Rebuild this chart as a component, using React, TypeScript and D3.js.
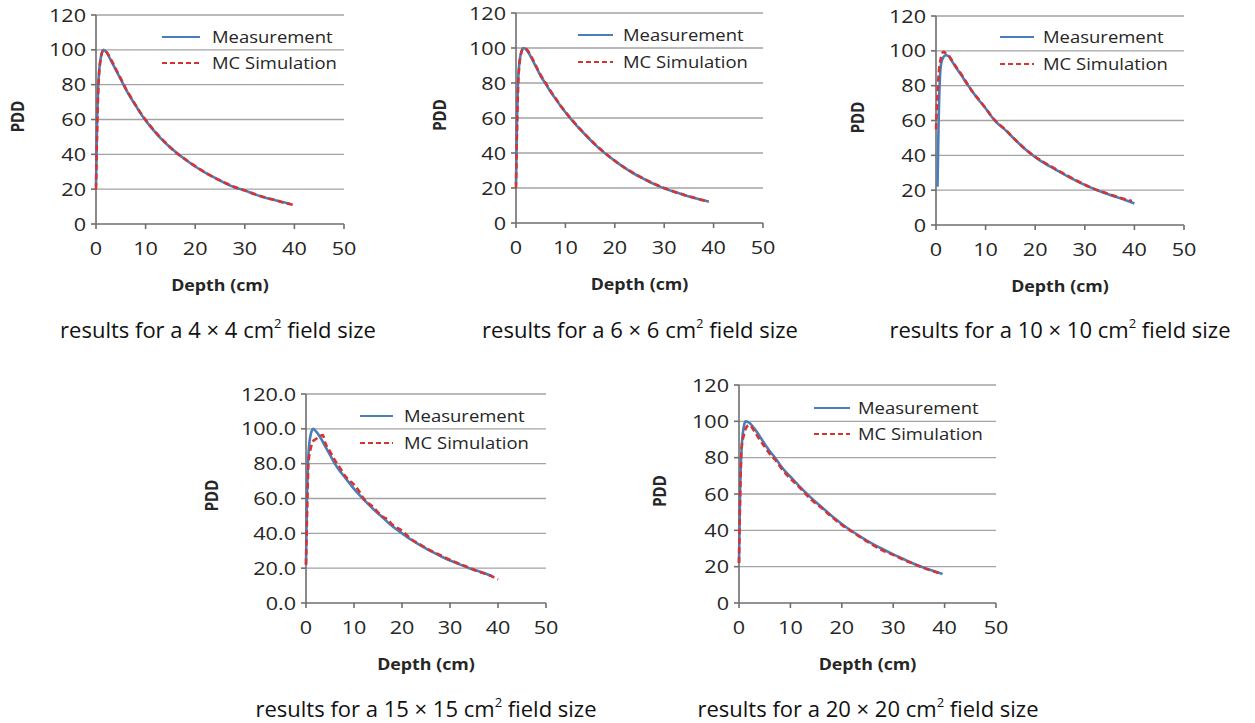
import React from "react";
import * as d3 from "d3";

// ---------- DATA ----------
const xTicks = [0, 10, 20, 30, 40, 50];
const yTicks = [0, 20, 40, 60, 80, 100, 120];
const seriesNames = ["Measurement", "MC Simulation"];
const captions = ["4 × 4", "6 × 6", "10 × 10", "15 × 15", "20 × 20"];

const depthStd = [0, 0.2, 0.5, 1, 1.5, 2, 3, 4, 5, 6, 7, 8, 9, 10, 12, 14, 16, 18, 20, 22, 24, 26, 28, 30, 32, 34, 36, 38, 39];

// 4 x 4
const meas4Depth = depthStd;
const meas4 = [22, 55, 82, 96, 100, 99, 94, 88.5, 83, 77.5, 72.5, 68, 63.5, 59.5, 52.5, 46.5, 41.5, 37, 33, 29.5, 26.5, 23.5, 21, 19.3, 17, 15.2, 13.8, 12.3, 11.7];
const mc4Depth = [0, 0.2, 0.5, 1, 1.5, 2, 3, 4, 5, 6, 7, 8, 9, 10, 12, 14, 16, 18, 20, 22, 24, 26, 28, 30, 32, 34, 36, 38, 40];
const mc4 = [20, 50, 80, 95.5, 99.8, 99.2, 94.5, 89, 83.5, 77.8, 73, 68.2, 63.8, 59.8, 52.8, 46.8, 41.3, 37.2, 33.2, 29.6, 26.4, 23.7, 21.2, 19.2, 17.2, 15.3, 13.8, 12.2, 10.8];

// 6 x 6
const meas6Depth = depthStd;
const meas6 = [22, 58, 85, 97, 100, 99.3, 95, 89.5, 84, 79.5, 75, 71, 67, 63.3, 56.5, 50.5, 44.8, 39.8, 35.5, 31.5, 28, 25, 22.2, 19.8, 17.8, 16, 14.4, 13, 12.3];
const mc6Depth = depthStd;
const mc6 = [20, 52, 83, 96.5, 99.6, 99.5, 95.5, 90, 84.5, 80, 75.5, 71.3, 67.2, 63.5, 56.8, 50.7, 45, 40, 35.6, 31.6, 28.2, 25.1, 22.4, 20, 17.9, 16.1, 14.4, 12.9, 12.2];

// 10 x 10
const meas10Depth = [0.3, 0.5, 0.8, 1, 1.5, 2, 2.5, 3, 4, 5, 6, 7, 8, 9, 10, 11, 12, 14, 16, 18, 20, 22, 24, 26, 28, 30, 32, 34, 36, 38, 40];
const meas10 = [22, 55, 85, 92, 96.5, 97.5, 97, 95, 90.5, 86.5, 82, 78, 74, 70.5, 67, 63, 59.5, 54.5, 48.8, 43.5, 39, 35.2, 32, 28.8, 25.8, 23, 20.5, 18.4, 16.4, 14.5, 12.3];
const mc10Depth = [0, 0.3, 0.5, 1, 1.5, 2, 2.5, 3, 4, 5, 6, 7, 8, 9, 10, 11, 12, 14, 16, 18, 20, 22, 24, 26, 28, 30, 32, 34, 36, 38, 39.5];
const mc10 = [55, 75, 85, 96, 99.5, 98.5, 97.5, 95.5, 91, 87, 82.5, 78, 74.3, 70.8, 67, 63.2, 59.8, 54.8, 48.9, 43.6, 39.2, 35.6, 32.3, 29.1, 26, 23.1, 20.6, 18.6, 16.7, 14.9, 13.8];

// 15 x 15
const meas15Depth = depthStd;
const meas15 = [22, 60, 85, 97, 100, 98.8, 95, 90, 85, 80, 76, 72.5, 69, 65.5, 59.5, 54, 49, 44, 40, 36.2, 32.8, 29.8, 27, 24.4, 22.2, 20, 18.2, 16.2, 15];
const mc15Depth = [0, 0.3, 0.5, 1, 1.5, 2, 3, 3.5, 4, 5, 6, 7, 8, 9, 10, 11, 12, 14, 16, 17, 18, 20, 22, 24, 26, 28, 30, 32, 34, 36, 38, 40];
const mc15 = [22, 60, 80, 89, 93, 94, 96, 96.5, 92, 87, 82, 78, 73.5, 70.5, 68, 64.5, 60, 55, 49.5, 48, 45, 41.5, 36.5, 33.3, 30, 27.5, 24.8, 22.5, 20.3, 18, 16.2, 13.5];

// 20 x 20
const meas20Depth = [0, 0.2, 0.5, 1, 1.3, 2, 3, 4, 5, 6, 7, 8, 9, 10, 12, 14, 16, 18, 20, 22, 24, 26, 28, 30, 32, 34, 36, 38, 39.6];
const meas20 = [22, 60, 85, 98, 100, 99.2, 96, 92, 87.5, 83.5, 80, 76, 72.5, 69.5, 63.5, 58, 53, 48, 43.5, 39.5, 35.9, 32.6, 29.6, 26.8, 24.2, 21.6, 19.4, 17.5, 16];
const mc20Depth = [0, 0.2, 0.5, 1, 1.5, 2, 3, 4, 5, 6, 7, 8, 9, 10, 12, 14, 16, 18, 20, 22, 24, 26, 28, 30, 32, 34, 36, 38, 39.5];
const mc20 = [22, 55, 85, 93, 97, 98, 94.5, 90, 86, 82, 79, 75, 71.5, 68.5, 63, 57, 52.5, 47.5, 43, 39.2, 35.5, 32, 28.9, 26.5, 23.8, 21.5, 19.2, 17.3, 16];

// ---------- LAYOUT ----------
const panels = [
  { x0: 96, x1: 344, yTop: 15, yBot: 224, leg: [162, 200, 212, 37, 63], cap: [218, 338], fmt: "d", pddOff: 78, meas: [meas4Depth, meas4], mc: [mc4Depth, mc4] },
  { x0: 516, x1: 763, yTop: 13, yBot: 223, leg: [578, 613, 623, 35, 62], cap: [640, 338], fmt: "d", pddOff: 76, meas: [meas6Depth, meas6], mc: [mc6Depth, mc6] },
  { x0: 936, x1: 1184, yTop: 16, yBot: 225, leg: [1000, 1034, 1043, 37, 64], cap: [1060, 338], fmt: "d", pddOff: 78, meas: [meas10Depth, meas10], mc: [mc10Depth, mc10] },
  { x0: 306, x1: 546, yTop: 394, yBot: 603, leg: [360, 393, 404, 416, 443], cap: [426, 717], fmt: ".1f", pddOff: 94, meas: [meas15Depth, meas15], mc: [mc15Depth, mc15] },
  { x0: 739, x1: 996, yTop: 385, yBot: 603, leg: [814, 850, 858, 408, 434], cap: [868, 717], fmt: "d", pddOff: 79, meas: [meas20Depth, meas20], mc: [mc20Depth, mc20] },
];

const BLUE = "#4a7ebb";
const RED = "#d63333";
const FONT = "'Open Sans', 'Liberation Sans', sans-serif";

function T({ x, y, anchor = "start", size = 18, weight = 400, rotate = false, sx = 1.2, fill = "#262626", children }: any) {
  return (
    <text
      transform={`translate(${x},${y}) scale(${sx},1)${rotate ? " rotate(-90)" : ""}`}
      textAnchor={anchor}
      fontSize={size}
      fontWeight={weight}
      fontFamily={FONT}
      fill={fill}
    >
      {children}
    </text>
  );
}

function Panel({ p, idx }: any) {
  const x = d3.scaleLinear().domain([0, 50]).range([p.x0, p.x1]);
  const y = d3.scaleLinear().domain([0, 120]).range([p.yBot, p.yTop]);
  const line = d3
    .line<[number, number]>()
    .x((d) => x(d[0]))
    .y((d) => y(d[1]))
    .curve(d3.curveMonotoneX);
  const measPts = p.meas[0].map((d: number, i: number) => [d, p.meas[1][i]] as [number, number]);
  const mcPts = p.mc[0].map((d: number, i: number) => [d, p.mc[1][i]] as [number, number]);
  const fmt = d3.format(p.fmt);
  const [lx0, lx1, ltx, ly0, ly1] = p.leg;
  return (
    <g>
      {yTicks.filter((t) => t > 0).map((t) => (
        <line key={"g" + t} x1={x(0)} x2={x(50)} y1={y(t)} y2={y(t)} stroke="#a3a3a3" strokeWidth={1.3} />
      ))}
      <line x1={x(0)} x2={x(0)} y1={y(0)} y2={y(120)} stroke="#6e6e6e" strokeWidth={1.6} />
      <line x1={x(0)} x2={x(50)} y1={y(0)} y2={y(0)} stroke="#6e6e6e" strokeWidth={1.6} />
      {yTicks.map((t) => (
        <g key={"yt" + t}>
          <line x1={x(0) - 5} x2={x(0)} y1={y(t)} y2={y(t)} stroke="#6e6e6e" strokeWidth={1.6} />
          <T x={x(0) - 10} y={y(t) + 6.5} anchor="end">{fmt(t)}</T>
        </g>
      ))}
      {xTicks.map((t) => (
        <g key={"xt" + t}>
          <line x1={x(t)} x2={x(t)} y1={y(0)} y2={y(0) + 5} stroke="#6e6e6e" strokeWidth={1.6} />
          <T x={x(t)} y={y(0) + 31} anchor="middle">{t}</T>
        </g>
      ))}
      <path d={line(measPts) || ""} fill="none" stroke={BLUE} strokeWidth={2.6} />
      <path d={line(mcPts) || ""} fill="none" stroke={RED} strokeWidth={2.6} strokeDasharray="6,3.5" />
      <line x1={lx0} x2={lx1} y1={ly0} y2={ly0} stroke={BLUE} strokeWidth={2} />
      <T x={ltx} y={ly0 + 6} size={16.5} sx={1.12}>{seriesNames[0]}</T>
      <line x1={lx0} x2={lx1} y1={ly1} y2={ly1} stroke={RED} strokeWidth={2} strokeDasharray="5,3" />
      <T x={ltx} y={ly1 + 6} size={16.5} sx={1.12}>{seriesNames[1]}</T>
      <T x={(p.x0 + p.x1) / 2} y={p.yBot + 67} anchor="middle" weight={700} size={15.5} sx={1.15}>Depth (cm)</T>
      <T x={p.x0 - p.pddOff + 6} y={(p.yTop + p.yBot) / 2 - 3} anchor="middle" weight={700} size={15} rotate>PDD</T>
      <T x={p.cap[0]} y={p.cap[1]} anchor="middle" size={22} sx={1.0} fill="#111">
        {"results for a " + captions[idx] + " cm"}
        <tspan fontSize={13} dy={-10}>2</tspan>
        <tspan dy={10}>{" field size"}</tspan>
      </T>
    </g>
  );
}

export default function App() {
  return (
    <svg width={1255} height={723} style={{ position: "absolute", left: 0, top: 0, background: "#fff" }}>
      <rect width={1255} height={723} fill="#fff" />
      {panels.map((p, i) => (
        <Panel key={i} p={p} idx={i} />
      ))}
    </svg>
  );
}
